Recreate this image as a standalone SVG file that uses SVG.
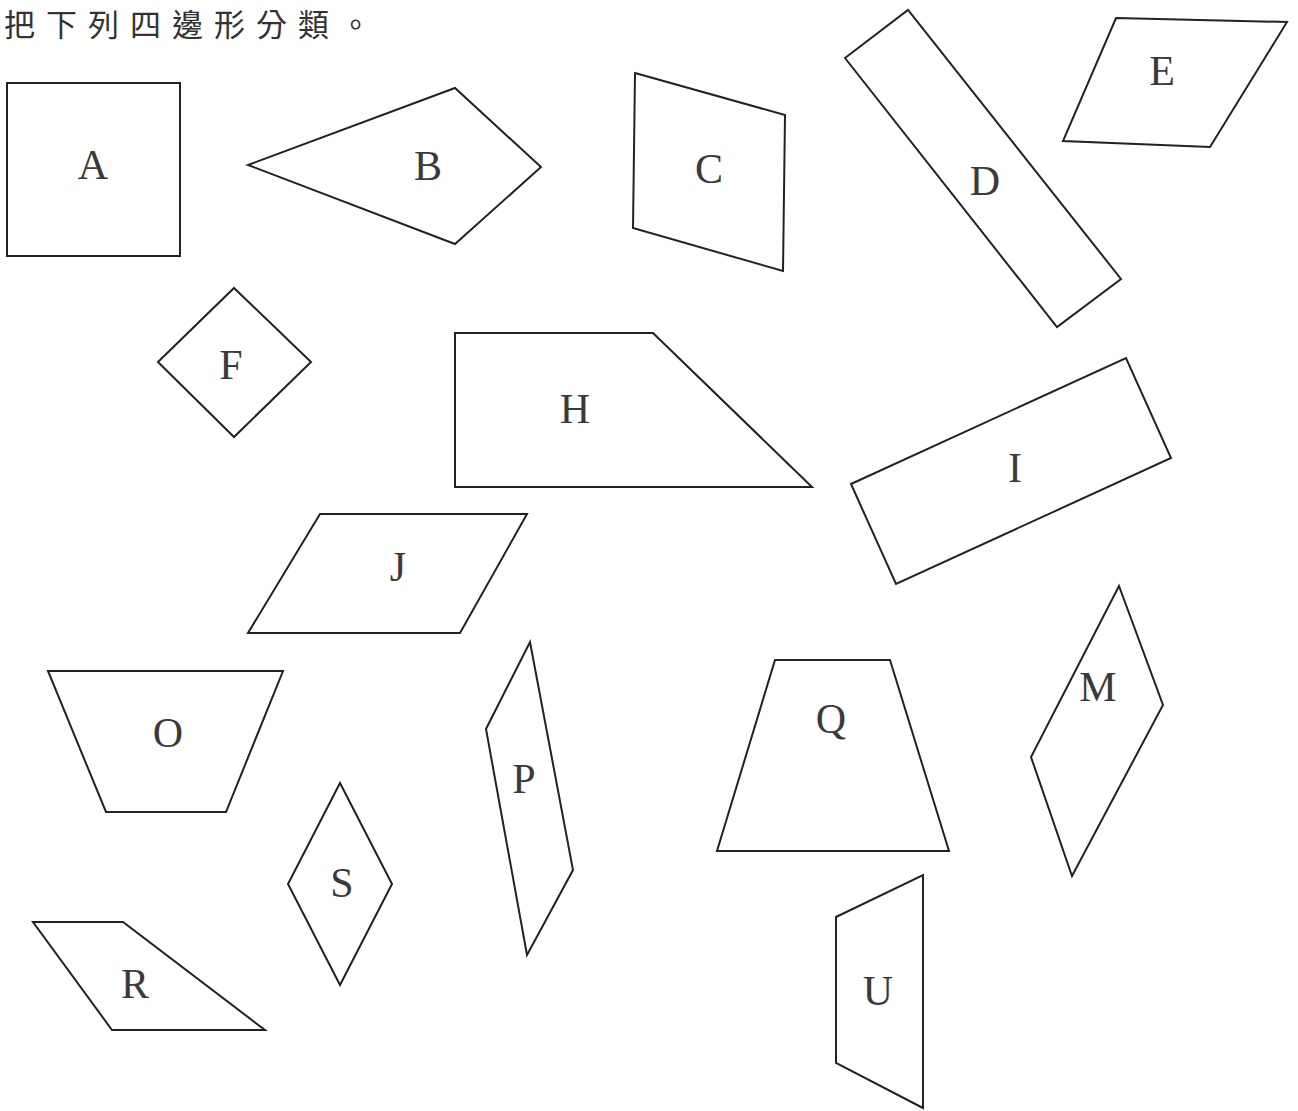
<svg xmlns="http://www.w3.org/2000/svg" width="1298" height="1111" viewBox="0 0 1298 1111">
<style>
.s{fill:none;stroke:#222;stroke-width:2;stroke-linejoin:miter}
.l{font-family:"Liberation Serif","Times New Roman",serif;font-size:42px;fill:#3a3a3a;text-anchor:middle}
.t{font-family:"Noto Sans CJK TC","Noto Sans CJK SC",sans-serif;font-size:31px;fill:#333;letter-spacing:11px}
</style>
<rect width="1298" height="1111" fill="#fff"/>
<text class="t" x="4" y="36">把下列四邊形分類。</text>
<g id="A"><polygon class="s" points="7,83 180,83 180,256 7,256"/><text class="l" x="93" y="179">A</text></g>
<g id="B"><polygon class="s" points="248,165 455,88 541,167 455,244"/><text class="l" x="428" y="180">B</text></g>
<g id="C"><polygon class="s" points="635,73 785,115 783,271 633,228"/><text class="l" x="709" y="183">C</text></g>
<g id="D"><polygon class="s" points="845,58 908,10 1121,279 1057,327"/><text class="l" x="985" y="195">D</text></g>
<g id="E"><polygon class="s" points="1116,18 1287,22 1210,147 1063,141"/><text class="l" x="1162" y="85">E</text></g>
<g id="F"><polygon class="s" points="158,362 234,288 311,362 234,437"/><text class="l" x="231" y="379">F</text></g>
<g id="H"><polygon class="s" points="455,333 653,333 812,487 455,487"/><text class="l" x="575" y="423">H</text></g>
<g id="I"><polygon class="s" points="851,484 1126,358 1171,458 896,584"/><text class="l" x="1015" y="482">I</text></g>
<g id="J"><polygon class="s" points="320,514 527,514 460,633 248,633"/><text class="l" x="398" y="581">J</text></g>
<g id="O"><polygon class="s" points="48,671 283,671 226,812 106,812"/><text class="l" x="168" y="747">O</text></g>
<g id="P"><polygon class="s" points="530,642 573,870 527,955 486,729"/><text class="l" x="524" y="793">P</text></g>
<g id="Q"><polygon class="s" points="775,660 890,660 949,851 717,851"/><text class="l" x="831" y="733">Q</text></g>
<g id="M"><polygon class="s" points="1119,586 1163,705 1072,876 1031,757"/><text class="l" x="1098" y="701">M</text></g>
<g id="S"><polygon class="s" points="340,783 392,884 340,985 288,884"/><text class="l" x="342" y="897">S</text></g>
<g id="R"><polygon class="s" points="33,922 123,922 265,1030 112,1030"/><text class="l" x="135" y="998">R</text></g>
<g id="U"><polygon class="s" points="836,917 923,875 923,1108 836,1063"/><text class="l" x="878" y="1005">U</text></g>
<g id="connectors"></g>
</svg>
